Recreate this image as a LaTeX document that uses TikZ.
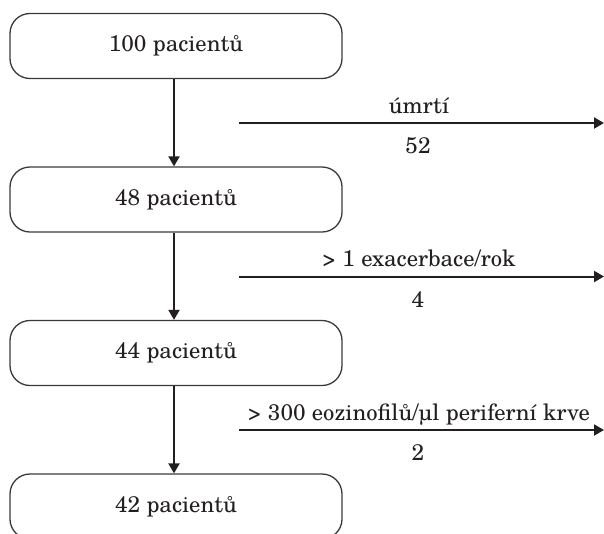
\documentclass[tikz,border=0pt]{standalone}
\usepackage{fontspec}
\setmainfont{texgyreschola-regular.otf}
\usetikzlibrary{arrows.meta}
\definecolor{ink}{HTML}{231F20}
\definecolor{frame}{HTML}{3A3A3A}
\begin{document}
\begin{tikzpicture}[x=1pt,y=-1pt,
  box/.style={draw=frame, line width=1.3pt, rounded corners=20pt, minimum width=332pt, minimum height=65pt, font=\fontsize{22.6}{26}\selectfont, text=ink, inner sep=0pt},
  flow/.style={draw=ink, line width=2pt, -{Triangle[length=10pt,width=11pt]}},
  lab/.style={font=\fontsize{22.6}{26}\selectfont, text=ink, inner sep=0pt}]
\useasboundingbox (0,0) rectangle (604,533);
\node[box] (b1) at (176,46) {100 pacientů};
\node[box] (b2) at (176,199.5) {48 pacientů};
\node[box] (b3) at (176,353) {44 pacientů};
\node[box] (b4) at (176,506.5) {42 pacientů};
\draw[flow] ([xshift=-2pt]b1.south) -- ([xshift=-2pt]b2.north);
\draw[flow] ([xshift=-2pt]b2.south) -- ([xshift=-2pt]b3.north);
\draw[flow] ([xshift=-2pt]b3.south) -- ([xshift=-2pt]b4.north);
\coordinate (s1) at (239,123); \coordinate (e1) at (604,123);
\coordinate (s2) at (239,276.5); \coordinate (e2) at (604,276.5);
\coordinate (s3) at (239,430); \coordinate (e3) at (604,430);
\draw[flow] (s1) -- (e1);
\draw[flow] (s2) -- (e2);
\draw[flow] (s3) -- (e3);
\node[lab, anchor=base] (t1) at (419,113) {úmrtí};
\node[lab, anchor=base] (n1) at (418,153.5) {52};
\node[lab, anchor=base] (t2) at (419,266.5) {> 1 exacerbace/rok};
\node[lab, anchor=base] (n2) at (418,307) {4};
\node[lab, anchor=base] (t3) at (419,420) {> 300 eozinofilů/µl periferní krve};
\node[lab, anchor=base] (n3) at (418,460.5) {2};
\end{tikzpicture}
\end{document}
